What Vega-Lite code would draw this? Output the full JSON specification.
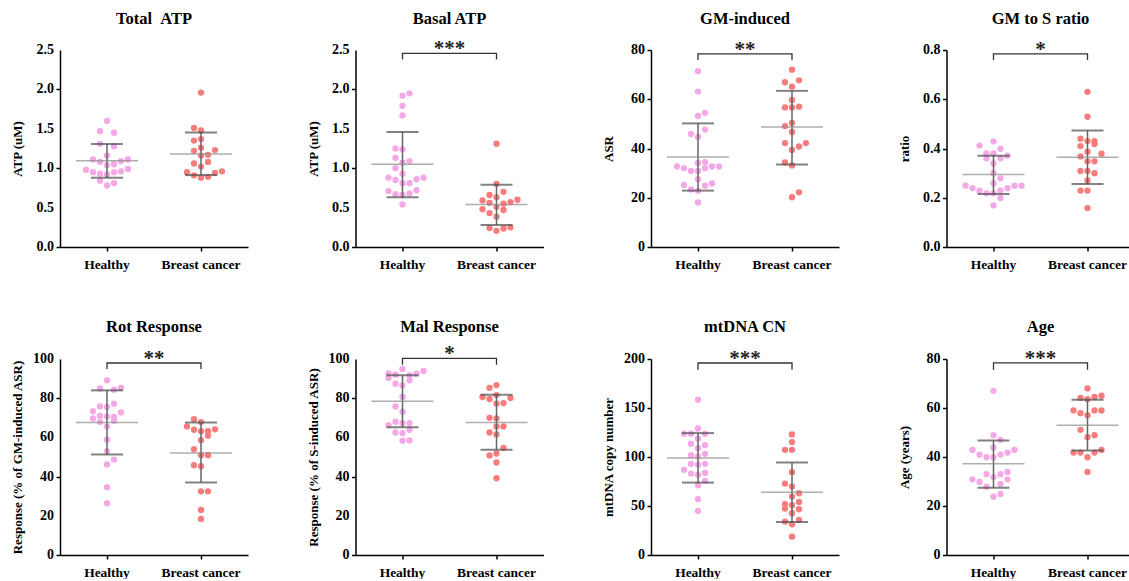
{
"$schema": "https://vega.github.io/schema/vega-lite/v6.json",
"padding": {"left": 11, "top": 10, "right": 0, "bottom": 0},
"background": "white",
"config": {
  "font": "Liberation Serif",
  "view": {"stroke": null},
  "axis": {"labelFont": "Liberation Serif", "labelFontSize": 14, "labelFontWeight": "bold", "labelColor": "#000", "titleFont": "Liberation Serif", "titleFontSize": 13, "titleFontWeight": "bold", "titleColor": "#000", "domainColor": "#000", "domainWidth": 1.5, "tickColor": "#000", "tickWidth": 1.5, "tickSize": 4, "grid": false},
  "axisY": {"minExtent": 28, "maxExtent": 28, "titlePadding": 7.5, "labels": false},
  "axisX": {"labelFontSize": 13.5, "labelPadding": 6, "labelAngle": 0},
  "text": {"font": "Liberation Serif", "color": "#000"}
},
"datasets": {
"points": [
{"panel":"p1","group":"Healthy","value":1.60,"slot":0},{"panel":"p1","group":"Healthy","value":1.47,"slot":-1},{"panel":"p1","group":"Healthy","value":1.45,"slot":1},{"panel":"p1","group":"Healthy","value":1.31,"slot":-1},{"panel":"p1","group":"Healthy","value":1.28,"slot":1},{"panel":"p1","group":"Healthy","value":1.16,"slot":0},{"panel":"p1","group":"Healthy","value":1.11,"slot":-2},{"panel":"p1","group":"Healthy","value":1.11,"slot":3},{"panel":"p1","group":"Healthy","value":1.08,"slot":-1},{"panel":"p1","group":"Healthy","value":1.09,"slot":2},{"panel":"p1","group":"Healthy","value":1.04,"slot":0},{"panel":"p1","group":"Healthy","value":1.05,"slot":1},{"panel":"p1","group":"Healthy","value":0.98,"slot":-3},{"panel":"p1","group":"Healthy","value":0.99,"slot":3},{"panel":"p1","group":"Healthy","value":0.95,"slot":-2},{"panel":"p1","group":"Healthy","value":0.96,"slot":2},{"panel":"p1","group":"Healthy","value":0.95,"slot":1},{"panel":"p1","group":"Healthy","value":0.93,"slot":-1},{"panel":"p1","group":"Healthy","value":0.92,"slot":0},{"panel":"p1","group":"Healthy","value":0.84,"slot":-1},{"panel":"p1","group":"Healthy","value":0.81,"slot":1},{"panel":"p1","group":"Healthy","value":0.78,"slot":0},
{"panel":"p1","group":"Breast cancer","value":1.96,"slot":0},{"panel":"p1","group":"Breast cancer","value":1.51,"slot":-1},{"panel":"p1","group":"Breast cancer","value":1.48,"slot":0},{"panel":"p1","group":"Breast cancer","value":1.35,"slot":-1},{"panel":"p1","group":"Breast cancer","value":1.37,"slot":0},{"panel":"p1","group":"Breast cancer","value":1.26,"slot":0},{"panel":"p1","group":"Breast cancer","value":1.22,"slot":-1},{"panel":"p1","group":"Breast cancer","value":1.23,"slot":2},{"panel":"p1","group":"Breast cancer","value":1.17,"slot":1},{"panel":"p1","group":"Breast cancer","value":1.16,"slot":0},{"panel":"p1","group":"Breast cancer","value":1.06,"slot":-1},{"panel":"p1","group":"Breast cancer","value":1.08,"slot":1},{"panel":"p1","group":"Breast cancer","value":1.02,"slot":0},{"panel":"p1","group":"Breast cancer","value":0.95,"slot":-2},{"panel":"p1","group":"Breast cancer","value":0.94,"slot":2},{"panel":"p1","group":"Breast cancer","value":0.96,"slot":3},{"panel":"p1","group":"Breast cancer","value":0.91,"slot":-1},{"panel":"p1","group":"Breast cancer","value":0.88,"slot":0},{"panel":"p1","group":"Breast cancer","value":0.89,"slot":1},
{"panel":"p2","group":"Healthy","value":1.95,"slot":1},{"panel":"p2","group":"Healthy","value":1.92,"slot":0},{"panel":"p2","group":"Healthy","value":1.79,"slot":0},{"panel":"p2","group":"Healthy","value":1.67,"slot":0},{"panel":"p2","group":"Healthy","value":1.25,"slot":-1},{"panel":"p2","group":"Healthy","value":1.24,"slot":0},{"panel":"p2","group":"Healthy","value":1.13,"slot":-1},{"panel":"p2","group":"Healthy","value":1.09,"slot":1},{"panel":"p2","group":"Healthy","value":1.07,"slot":0},{"panel":"p2","group":"Healthy","value":1.00,"slot":-1},{"panel":"p2","group":"Healthy","value":0.93,"slot":0},{"panel":"p2","group":"Healthy","value":0.88,"slot":-2},{"panel":"p2","group":"Healthy","value":0.88,"slot":3},{"panel":"p2","group":"Healthy","value":0.86,"slot":2},{"panel":"p2","group":"Healthy","value":0.85,"slot":-1},{"panel":"p2","group":"Healthy","value":0.81,"slot":0},{"panel":"p2","group":"Healthy","value":0.81,"slot":1},{"panel":"p2","group":"Healthy","value":0.71,"slot":-2},{"panel":"p2","group":"Healthy","value":0.72,"slot":2},{"panel":"p2","group":"Healthy","value":0.67,"slot":-1},{"panel":"p2","group":"Healthy","value":0.68,"slot":1},{"panel":"p2","group":"Healthy","value":0.66,"slot":0},{"panel":"p2","group":"Healthy","value":0.54,"slot":0},
{"panel":"p2","group":"Breast cancer","value":1.31,"slot":0},{"panel":"p2","group":"Breast cancer","value":0.80,"slot":0},{"panel":"p2","group":"Breast cancer","value":0.66,"slot":-1},{"panel":"p2","group":"Breast cancer","value":0.70,"slot":1},{"panel":"p2","group":"Breast cancer","value":0.63,"slot":0},{"panel":"p2","group":"Breast cancer","value":0.59,"slot":-2},{"panel":"p2","group":"Breast cancer","value":0.60,"slot":3},{"panel":"p2","group":"Breast cancer","value":0.57,"slot":2},{"panel":"p2","group":"Breast cancer","value":0.56,"slot":-1},{"panel":"p2","group":"Breast cancer","value":0.55,"slot":1},{"panel":"p2","group":"Breast cancer","value":0.51,"slot":0},{"panel":"p2","group":"Breast cancer","value":0.48,"slot":-2},{"panel":"p2","group":"Breast cancer","value":0.47,"slot":1},{"panel":"p2","group":"Breast cancer","value":0.43,"slot":-1},{"panel":"p2","group":"Breast cancer","value":0.385,"slot":0},{"panel":"p2","group":"Breast cancer","value":0.24,"slot":-1},{"panel":"p2","group":"Breast cancer","value":0.235,"slot":1},{"panel":"p2","group":"Breast cancer","value":0.25,"slot":2},{"panel":"p2","group":"Breast cancer","value":0.205,"slot":0},
{"panel":"p3","group":"Healthy","value":71.4,"slot":0},{"panel":"p3","group":"Healthy","value":63.1,"slot":0},{"panel":"p3","group":"Healthy","value":54.5,"slot":1},{"panel":"p3","group":"Healthy","value":53.2,"slot":0},{"panel":"p3","group":"Healthy","value":47.7,"slot":1},{"panel":"p3","group":"Healthy","value":45.9,"slot":-1},{"panel":"p3","group":"Healthy","value":44.7,"slot":0},{"panel":"p3","group":"Healthy","value":34.5,"slot":1},{"panel":"p3","group":"Healthy","value":34.1,"slot":0},{"panel":"p3","group":"Healthy","value":32.7,"slot":-3},{"panel":"p3","group":"Healthy","value":32.0,"slot":-2},{"panel":"p3","group":"Healthy","value":32.7,"slot":2},{"panel":"p3","group":"Healthy","value":32.7,"slot":3},{"panel":"p3","group":"Healthy","value":32.0,"slot":1},{"panel":"p3","group":"Healthy","value":30.9,"slot":-1},{"panel":"p3","group":"Healthy","value":30.9,"slot":0},{"panel":"p3","group":"Healthy","value":27.5,"slot":0},{"panel":"p3","group":"Healthy","value":25.2,"slot":-2},{"panel":"p3","group":"Healthy","value":25.8,"slot":2},{"panel":"p3","group":"Healthy","value":24.9,"slot":1},{"panel":"p3","group":"Healthy","value":23.4,"slot":-1},{"panel":"p3","group":"Healthy","value":22.8,"slot":0},{"panel":"p3","group":"Healthy","value":18.1,"slot":0},
{"panel":"p3","group":"Breast cancer","value":72.0,"slot":0},{"panel":"p3","group":"Breast cancer","value":67.7,"slot":1},{"panel":"p3","group":"Breast cancer","value":66.9,"slot":-1},{"panel":"p3","group":"Breast cancer","value":65.1,"slot":0},{"panel":"p3","group":"Breast cancer","value":59.7,"slot":0},{"panel":"p3","group":"Breast cancer","value":56.7,"slot":-1},{"panel":"p3","group":"Breast cancer","value":56.7,"slot":0},{"panel":"p3","group":"Breast cancer","value":57.0,"slot":1},{"panel":"p3","group":"Breast cancer","value":50.4,"slot":0},{"panel":"p3","group":"Breast cancer","value":49.1,"slot":-1},{"panel":"p3","group":"Breast cancer","value":46.7,"slot":0},{"panel":"p3","group":"Breast cancer","value":42.2,"slot":-1},{"panel":"p3","group":"Breast cancer","value":42.2,"slot":2},{"panel":"p3","group":"Breast cancer","value":40.8,"slot":1},{"panel":"p3","group":"Breast cancer","value":39.4,"slot":0},{"panel":"p3","group":"Breast cancer","value":34.3,"slot":-1},{"panel":"p3","group":"Breast cancer","value":33.1,"slot":0},{"panel":"p3","group":"Breast cancer","value":22.2,"slot":1},{"panel":"p3","group":"Breast cancer","value":20.2,"slot":0},
{"panel":"p4","group":"Healthy","value":0.429,"slot":0},{"panel":"p4","group":"Healthy","value":0.412,"slot":-2},{"panel":"p4","group":"Healthy","value":0.399,"slot":1},{"panel":"p4","group":"Healthy","value":0.380,"slot":-1},{"panel":"p4","group":"Healthy","value":0.380,"slot":0},{"panel":"p4","group":"Healthy","value":0.371,"slot":2},{"panel":"p4","group":"Healthy","value":0.360,"slot":-1},{"panel":"p4","group":"Healthy","value":0.360,"slot":1},{"panel":"p4","group":"Healthy","value":0.339,"slot":0},{"panel":"p4","group":"Healthy","value":0.300,"slot":0},{"panel":"p4","group":"Healthy","value":0.279,"slot":1},{"panel":"p4","group":"Healthy","value":0.259,"slot":0},{"panel":"p4","group":"Healthy","value":0.249,"slot":-4},{"panel":"p4","group":"Healthy","value":0.249,"slot":3},{"panel":"p4","group":"Healthy","value":0.249,"slot":4},{"panel":"p4","group":"Healthy","value":0.239,"slot":-3},{"panel":"p4","group":"Healthy","value":0.239,"slot":2},{"panel":"p4","group":"Healthy","value":0.229,"slot":-2},{"panel":"p4","group":"Healthy","value":0.229,"slot":1},{"panel":"p4","group":"Healthy","value":0.218,"slot":-1},{"panel":"p4","group":"Healthy","value":0.218,"slot":0},{"panel":"p4","group":"Healthy","value":0.199,"slot":1},{"panel":"p4","group":"Healthy","value":0.169,"slot":0},
{"panel":"p4","group":"Breast cancer","value":0.630,"slot":0},{"panel":"p4","group":"Breast cancer","value":0.529,"slot":0},{"panel":"p4","group":"Breast cancer","value":0.440,"slot":-1},{"panel":"p4","group":"Breast cancer","value":0.430,"slot":0},{"panel":"p4","group":"Breast cancer","value":0.430,"slot":1},{"panel":"p4","group":"Breast cancer","value":0.418,"slot":1},{"panel":"p4","group":"Breast cancer","value":0.410,"slot":-1},{"panel":"p4","group":"Breast cancer","value":0.387,"slot":0},{"panel":"p4","group":"Breast cancer","value":0.379,"slot":2},{"panel":"p4","group":"Breast cancer","value":0.368,"slot":-1},{"panel":"p4","group":"Breast cancer","value":0.348,"slot":0},{"panel":"p4","group":"Breast cancer","value":0.348,"slot":1},{"panel":"p4","group":"Breast cancer","value":0.309,"slot":-1},{"panel":"p4","group":"Breast cancer","value":0.309,"slot":0},{"panel":"p4","group":"Breast cancer","value":0.300,"slot":1},{"panel":"p4","group":"Breast cancer","value":0.270,"slot":0},{"panel":"p4","group":"Breast cancer","value":0.229,"slot":-1},{"panel":"p4","group":"Breast cancer","value":0.229,"slot":0},{"panel":"p4","group":"Breast cancer","value":0.158,"slot":0},
{"panel":"p5","group":"Healthy","value":89.1,"slot":0},{"panel":"p5","group":"Healthy","value":85.0,"slot":-1},{"panel":"p5","group":"Healthy","value":84.3,"slot":1},{"panel":"p5","group":"Healthy","value":85.3,"slot":2},{"panel":"p5","group":"Healthy","value":77.2,"slot":1},{"panel":"p5","group":"Healthy","value":75.8,"slot":-1},{"panel":"p5","group":"Healthy","value":75.5,"slot":0},{"panel":"p5","group":"Healthy","value":73.4,"slot":-2},{"panel":"p5","group":"Healthy","value":72.7,"slot":2},{"panel":"p5","group":"Healthy","value":71.0,"slot":-1},{"panel":"p5","group":"Healthy","value":70.7,"slot":0},{"panel":"p5","group":"Healthy","value":70.5,"slot":1},{"panel":"p5","group":"Healthy","value":69.7,"slot":-2},{"panel":"p5","group":"Healthy","value":68.5,"slot":1},{"panel":"p5","group":"Healthy","value":67.8,"slot":-1},{"panel":"p5","group":"Healthy","value":65.6,"slot":0},{"panel":"p5","group":"Healthy","value":58.8,"slot":0},{"panel":"p5","group":"Healthy","value":53.0,"slot":0},{"panel":"p5","group":"Healthy","value":48.7,"slot":1},{"panel":"p5","group":"Healthy","value":46.2,"slot":0},{"panel":"p5","group":"Healthy","value":34.6,"slot":0},{"panel":"p5","group":"Healthy","value":26.4,"slot":0},
{"panel":"p5","group":"Breast cancer","value":69.3,"slot":-1},{"panel":"p5","group":"Breast cancer","value":67.8,"slot":0},{"panel":"p5","group":"Breast cancer","value":65.6,"slot":-2},{"panel":"p5","group":"Breast cancer","value":63.9,"slot":-1},{"panel":"p5","group":"Breast cancer","value":63.2,"slot":1},{"panel":"p5","group":"Breast cancer","value":64.1,"slot":2},{"panel":"p5","group":"Breast cancer","value":63.2,"slot":0},{"panel":"p5","group":"Breast cancer","value":60.8,"slot":1},{"panel":"p5","group":"Breast cancer","value":58.6,"slot":0},{"panel":"p5","group":"Breast cancer","value":54.0,"slot":-1},{"panel":"p5","group":"Breast cancer","value":50.9,"slot":0},{"panel":"p5","group":"Breast cancer","value":50.9,"slot":1},{"panel":"p5","group":"Breast cancer","value":45.8,"slot":-1},{"panel":"p5","group":"Breast cancer","value":45.3,"slot":0},{"panel":"p5","group":"Breast cancer","value":32.5,"slot":0},{"panel":"p5","group":"Breast cancer","value":32.5,"slot":1},{"panel":"p5","group":"Breast cancer","value":23.0,"slot":0},{"panel":"p5","group":"Breast cancer","value":18.4,"slot":0},
{"panel":"p6","group":"Healthy","value":94.9,"slot":0},{"panel":"p6","group":"Healthy","value":93.9,"slot":3},{"panel":"p6","group":"Healthy","value":92.7,"slot":-2},{"panel":"p6","group":"Healthy","value":92.0,"slot":-1},{"panel":"p6","group":"Healthy","value":92.5,"slot":2},{"panel":"p6","group":"Healthy","value":91.7,"slot":1},{"panel":"p6","group":"Healthy","value":90.3,"slot":-2},{"panel":"p6","group":"Healthy","value":87.4,"slot":-1},{"panel":"p6","group":"Healthy","value":89.1,"slot":1},{"panel":"p6","group":"Healthy","value":86.5,"slot":0},{"panel":"p6","group":"Healthy","value":80.6,"slot":0},{"panel":"p6","group":"Healthy","value":75.8,"slot":-1},{"panel":"p6","group":"Healthy","value":73.1,"slot":0},{"panel":"p6","group":"Healthy","value":68.0,"slot":-1},{"panel":"p6","group":"Healthy","value":67.3,"slot":1},{"panel":"p6","group":"Healthy","value":66.3,"slot":-2},{"panel":"p6","group":"Healthy","value":67.3,"slot":0},{"panel":"p6","group":"Healthy","value":63.9,"slot":1},{"panel":"p6","group":"Healthy","value":62.5,"slot":-1},{"panel":"p6","group":"Healthy","value":62.2,"slot":0},{"panel":"p6","group":"Healthy","value":58.3,"slot":0},{"panel":"p6","group":"Healthy","value":58.4,"slot":1},
{"panel":"p6","group":"Breast cancer","value":86.7,"slot":0},{"panel":"p6","group":"Breast cancer","value":85.3,"slot":-1},{"panel":"p6","group":"Breast cancer","value":80.6,"slot":-2},{"panel":"p6","group":"Breast cancer","value":80.1,"slot":2},{"panel":"p6","group":"Breast cancer","value":79.6,"slot":-1},{"panel":"p6","group":"Breast cancer","value":81.6,"slot":0},{"panel":"p6","group":"Breast cancer","value":77.5,"slot":1},{"panel":"p6","group":"Breast cancer","value":77.2,"slot":0},{"panel":"p6","group":"Breast cancer","value":70.0,"slot":-1},{"panel":"p6","group":"Breast cancer","value":69.7,"slot":0},{"panel":"p6","group":"Breast cancer","value":65.6,"slot":0},{"panel":"p6","group":"Breast cancer","value":65.6,"slot":1},{"panel":"p6","group":"Breast cancer","value":62.5,"slot":-1},{"panel":"p6","group":"Breast cancer","value":61.5,"slot":0},{"panel":"p6","group":"Breast cancer","value":54.7,"slot":1},{"panel":"p6","group":"Breast cancer","value":51.8,"slot":0},{"panel":"p6","group":"Breast cancer","value":50.8,"slot":-1},{"panel":"p6","group":"Breast cancer","value":47.2,"slot":0},{"panel":"p6","group":"Breast cancer","value":39.2,"slot":0},
{"panel":"p7","group":"Healthy","value":158.4,"slot":0},{"panel":"p7","group":"Healthy","value":129.1,"slot":0},{"panel":"p7","group":"Healthy","value":123.7,"slot":-2},{"panel":"p7","group":"Healthy","value":123.7,"slot":-1},{"panel":"p7","group":"Healthy","value":123.7,"slot":1},{"panel":"p7","group":"Healthy","value":118.6,"slot":0},{"panel":"p7","group":"Healthy","value":113.5,"slot":-1},{"panel":"p7","group":"Healthy","value":112.1,"slot":1},{"panel":"p7","group":"Healthy","value":109.0,"slot":0},{"panel":"p7","group":"Healthy","value":101.9,"slot":-1},{"panel":"p7","group":"Healthy","value":103.2,"slot":1},{"panel":"p7","group":"Healthy","value":100.5,"slot":0},{"panel":"p7","group":"Healthy","value":93.0,"slot":-1},{"panel":"p7","group":"Healthy","value":93.0,"slot":1},{"panel":"p7","group":"Healthy","value":92.3,"slot":0},{"panel":"p7","group":"Healthy","value":86.9,"slot":-2},{"panel":"p7","group":"Healthy","value":83.1,"slot":-1},{"panel":"p7","group":"Healthy","value":83.8,"slot":1},{"panel":"p7","group":"Healthy","value":81.8,"slot":0},{"panel":"p7","group":"Healthy","value":75.6,"slot":1},{"panel":"p7","group":"Healthy","value":71.2,"slot":0},{"panel":"p7","group":"Healthy","value":56.9,"slot":0},{"panel":"p7","group":"Healthy","value":45.0,"slot":0},
{"panel":"p7","group":"Breast cancer","value":123.0,"slot":0},{"panel":"p7","group":"Breast cancer","value":115.2,"slot":0},{"panel":"p7","group":"Breast cancer","value":107.3,"slot":-1},{"panel":"p7","group":"Breast cancer","value":107.3,"slot":0},{"panel":"p7","group":"Breast cancer","value":84.5,"slot":0},{"panel":"p7","group":"Breast cancer","value":72.9,"slot":-1},{"panel":"p7","group":"Breast cancer","value":69.8,"slot":0},{"panel":"p7","group":"Breast cancer","value":59.6,"slot":0},{"panel":"p7","group":"Breast cancer","value":63.0,"slot":1},{"panel":"p7","group":"Breast cancer","value":51.8,"slot":-1},{"panel":"p7","group":"Breast cancer","value":54.2,"slot":1},{"panel":"p7","group":"Breast cancer","value":50.8,"slot":0},{"panel":"p7","group":"Breast cancer","value":47.4,"slot":-1},{"panel":"p7","group":"Breast cancer","value":46.7,"slot":1},{"panel":"p7","group":"Breast cancer","value":42.6,"slot":0},{"panel":"p7","group":"Breast cancer","value":34.1,"slot":-1},{"panel":"p7","group":"Breast cancer","value":35.8,"slot":1},{"panel":"p7","group":"Breast cancer","value":31.3,"slot":0},{"panel":"p7","group":"Breast cancer","value":18.7,"slot":0},
{"panel":"p8","group":"Healthy","value":67.0,"slot":0},{"panel":"p8","group":"Healthy","value":48.9,"slot":0},{"panel":"p8","group":"Healthy","value":47.0,"slot":1},{"panel":"p8","group":"Healthy","value":43.9,"slot":0},{"panel":"p8","group":"Healthy","value":42.9,"slot":-3},{"panel":"p8","group":"Healthy","value":42.9,"slot":3},{"panel":"p8","group":"Healthy","value":41.8,"slot":2},{"panel":"p8","group":"Healthy","value":41.0,"slot":-2},{"panel":"p8","group":"Healthy","value":41.0,"slot":1},{"panel":"p8","group":"Healthy","value":39.9,"slot":-1},{"panel":"p8","group":"Healthy","value":39.9,"slot":0},{"panel":"p8","group":"Healthy","value":33.9,"slot":2},{"panel":"p8","group":"Healthy","value":33.0,"slot":-1},{"panel":"p8","group":"Healthy","value":33.0,"slot":1},{"panel":"p8","group":"Healthy","value":31.8,"slot":0},{"panel":"p8","group":"Healthy","value":30.9,"slot":-3},{"panel":"p8","group":"Healthy","value":30.9,"slot":2},{"panel":"p8","group":"Healthy","value":29.8,"slot":-2},{"panel":"p8","group":"Healthy","value":29.0,"slot":1},{"panel":"p8","group":"Healthy","value":27.9,"slot":-1},{"panel":"p8","group":"Healthy","value":24.9,"slot":1},{"panel":"p8","group":"Healthy","value":23.8,"slot":0},
{"panel":"p8","group":"Breast cancer","value":68.0,"slot":0},{"panel":"p8","group":"Breast cancer","value":64.1,"slot":-1},{"panel":"p8","group":"Breast cancer","value":64.5,"slot":1},{"panel":"p8","group":"Breast cancer","value":65.0,"slot":2},{"panel":"p8","group":"Breast cancer","value":63.6,"slot":0},{"panel":"p8","group":"Breast cancer","value":59.0,"slot":-2},{"panel":"p8","group":"Breast cancer","value":59.0,"slot":2},{"panel":"p8","group":"Breast cancer","value":59.0,"slot":1},{"panel":"p8","group":"Breast cancer","value":57.9,"slot":-1},{"panel":"p8","group":"Breast cancer","value":57.0,"slot":0},{"panel":"p8","group":"Breast cancer","value":51.1,"slot":-1},{"panel":"p8","group":"Breast cancer","value":48.9,"slot":1},{"panel":"p8","group":"Breast cancer","value":48.1,"slot":0},{"panel":"p8","group":"Breast cancer","value":42.9,"slot":2},{"panel":"p8","group":"Breast cancer","value":41.8,"slot":-2},{"panel":"p8","group":"Breast cancer","value":41.8,"slot":-1},{"panel":"p8","group":"Breast cancer","value":41.8,"slot":1},{"panel":"p8","group":"Breast cancer","value":39.9,"slot":0},{"panel":"p8","group":"Breast cancer","value":33.9,"slot":0}
],
"stats": [
{"panel":"p1","group":"Healthy","mean":1.093,"lo":0.879,"hi":1.307},{"panel":"p1","group":"Breast cancer","mean":1.181,"lo":0.913,"hi":1.453},
{"panel":"p2","group":"Healthy","mean":1.05,"lo":0.63,"hi":1.46},{"panel":"p2","group":"Breast cancer","mean":0.54,"lo":0.28,"hi":0.79},
{"panel":"p3","group":"Healthy","mean":36.5,"lo":22.9,"hi":50.2},{"panel":"p3","group":"Breast cancer","mean":48.7,"lo":33.5,"hi":63.4},
{"panel":"p4","group":"Healthy","mean":0.294,"lo":0.215,"hi":0.371},{"panel":"p4","group":"Breast cancer","mean":0.364,"lo":0.256,"hi":0.473},
{"panel":"p5","group":"Healthy","mean":67.6,"lo":51.3,"hi":84.0},{"panel":"p5","group":"Breast cancer","mean":52.0,"lo":37.0,"hi":67.6},
{"panel":"p6","group":"Healthy","mean":78.4,"lo":65.2,"hi":91.7},{"panel":"p6","group":"Breast cancer","mean":67.6,"lo":53.7,"hi":81.8},
{"panel":"p7","group":"Healthy","mean":99.1,"lo":73.9,"hi":124.4},{"panel":"p7","group":"Breast cancer","mean":64.1,"lo":33.7,"hi":94.4},
{"panel":"p8","group":"Healthy","mean":37.2,"lo":27.4,"hi":46.7},{"panel":"p8","group":"Breast cancer","mean":53.0,"lo":42.7,"hi":63.4}
],
"brackets": [
{"panel":"p2","group":"Healthy","y":2.38,"ord":1},{"panel":"p2","group":"Healthy","y":2.457,"ord":2},{"panel":"p2","group":"Breast cancer","y":2.457,"ord":3},{"panel":"p2","group":"Breast cancer","y":2.38,"ord":4},
{"panel":"p3","group":"Healthy","y":75.9,"ord":1},{"panel":"p3","group":"Healthy","y":78.4,"ord":2},{"panel":"p3","group":"Breast cancer","y":78.4,"ord":3},{"panel":"p3","group":"Breast cancer","y":75.9,"ord":4},
{"panel":"p4","group":"Healthy","y":0.759,"ord":1},{"panel":"p4","group":"Healthy","y":0.784,"ord":2},{"panel":"p4","group":"Breast cancer","y":0.784,"ord":3},{"panel":"p4","group":"Breast cancer","y":0.759,"ord":4},
{"panel":"p5","group":"Healthy","y":94.9,"ord":1},{"panel":"p5","group":"Healthy","y":97.96,"ord":2},{"panel":"p5","group":"Breast cancer","y":97.96,"ord":3},{"panel":"p5","group":"Breast cancer","y":94.9,"ord":4},
{"panel":"p6","group":"Healthy","y":97.1,"ord":1},{"panel":"p6","group":"Healthy","y":100.3,"ord":2},{"panel":"p6","group":"Breast cancer","y":100.3,"ord":3},{"panel":"p6","group":"Breast cancer","y":97.1,"ord":4},
{"panel":"p7","group":"Healthy","y":189.1,"ord":1},{"panel":"p7","group":"Healthy","y":195.9,"ord":2},{"panel":"p7","group":"Breast cancer","y":195.9,"ord":3},{"panel":"p7","group":"Breast cancer","y":189.1,"ord":4},
{"panel":"p8","group":"Healthy","y":75.6,"ord":1},{"panel":"p8","group":"Healthy","y":78.4,"ord":2},{"panel":"p8","group":"Breast cancer","y":78.4,"ord":3},{"panel":"p8","group":"Breast cancer","y":75.6,"ord":4}
],
"stars": [
{"panel":"p2","group":"Breast cancer","y":2.457,"label":"***"},
{"panel":"p3","group":"Breast cancer","y":78.4,"label":"**"},
{"panel":"p4","group":"Breast cancer","y":0.784,"label":"*"},
{"panel":"p5","group":"Breast cancer","y":97.96,"label":"**"},
{"panel":"p6","group":"Breast cancer","y":100.3,"label":"*"},
{"panel":"p7","group":"Breast cancer","y":195.9,"label":"***"},
{"panel":"p8","group":"Breast cancer","y":78.4,"label":"***"}
],
"titles": [
{"panel":"p1","group":"Breast cancer","y":2.5,"label":"Total \u00a0ATP"},
{"panel":"p2","group":"Breast cancer","y":2.5,"label":"Basal ATP"},
{"panel":"p3","group":"Breast cancer","y":80,"label":"GM-induced"},
{"panel":"p4","group":"Breast cancer","y":0.8,"label":"GM to S ratio"},
{"panel":"p5","group":"Breast cancer","y":100,"label":"Rot Response"},
{"panel":"p6","group":"Breast cancer","y":100,"label":"Mal Response"},
{"panel":"p7","group":"Breast cancer","y":200,"label":"mtDNA CN"},
{"panel":"p8","group":"Breast cancer","y":80,"label":"Age"}
],
"ylabels": [
{"panel":"p1","group":"Healthy","y":0,"label":"0.0"},{"panel":"p1","group":"Healthy","y":0.5,"label":"0.5"},{"panel":"p1","group":"Healthy","y":1,"label":"1.0"},{"panel":"p1","group":"Healthy","y":1.5,"label":"1.5"},{"panel":"p1","group":"Healthy","y":2,"label":"2.0"},{"panel":"p1","group":"Healthy","y":2.5,"label":"2.5"},
{"panel":"p2","group":"Healthy","y":0,"label":"0.0"},{"panel":"p2","group":"Healthy","y":0.5,"label":"0.5"},{"panel":"p2","group":"Healthy","y":1,"label":"1.0"},{"panel":"p2","group":"Healthy","y":1.5,"label":"1.5"},{"panel":"p2","group":"Healthy","y":2,"label":"2.0"},{"panel":"p2","group":"Healthy","y":2.5,"label":"2.5"},
{"panel":"p3","group":"Healthy","y":0,"label":"0"},{"panel":"p3","group":"Healthy","y":20,"label":"20"},{"panel":"p3","group":"Healthy","y":40,"label":"40"},{"panel":"p3","group":"Healthy","y":60,"label":"60"},{"panel":"p3","group":"Healthy","y":80,"label":"80"},
{"panel":"p4","group":"Healthy","y":0,"label":"0.0"},{"panel":"p4","group":"Healthy","y":0.2,"label":"0.2"},{"panel":"p4","group":"Healthy","y":0.4,"label":"0.4"},{"panel":"p4","group":"Healthy","y":0.6,"label":"0.6"},{"panel":"p4","group":"Healthy","y":0.8,"label":"0.8"},
{"panel":"p5","group":"Healthy","y":0,"label":"0"},{"panel":"p5","group":"Healthy","y":20,"label":"20"},{"panel":"p5","group":"Healthy","y":40,"label":"40"},{"panel":"p5","group":"Healthy","y":60,"label":"60"},{"panel":"p5","group":"Healthy","y":80,"label":"80"},{"panel":"p5","group":"Healthy","y":100,"label":"100"},
{"panel":"p6","group":"Healthy","y":0,"label":"0"},{"panel":"p6","group":"Healthy","y":20,"label":"20"},{"panel":"p6","group":"Healthy","y":40,"label":"40"},{"panel":"p6","group":"Healthy","y":60,"label":"60"},{"panel":"p6","group":"Healthy","y":80,"label":"80"},{"panel":"p6","group":"Healthy","y":100,"label":"100"},
{"panel":"p7","group":"Healthy","y":0,"label":"0"},{"panel":"p7","group":"Healthy","y":50,"label":"50"},{"panel":"p7","group":"Healthy","y":100,"label":"100"},{"panel":"p7","group":"Healthy","y":150,"label":"150"},{"panel":"p7","group":"Healthy","y":200,"label":"200"},
{"panel":"p8","group":"Healthy","y":0,"label":"0"},{"panel":"p8","group":"Healthy","y":20,"label":"20"},{"panel":"p8","group":"Healthy","y":40,"label":"40"},{"panel":"p8","group":"Healthy","y":60,"label":"60"},{"panel":"p8","group":"Healthy","y":80,"label":"80"}
]
},
"columns": 4,
"spacing": {"row": 48, "column": 58.5},
"concat": [
{"width":188,"height":197,"layer":[
 {"data":{"name":"points"},"transform":[{"filter":"datum.panel === 'p1'"}],"mark":{"type":"circle","size":40,"opacity":1},"encoding":{"x":{"field":"group","type":"nominal","scale":{"type":"band","domain":["Healthy","Breast cancer"],"paddingInner":0,"paddingOuter":0},"axis":{"title":null}},"xOffset":{"field":"slot","type":"quantitative","scale":{"domain":[-6.714,6.714],"range":[0,94]}},"y":{"field":"value","type":"quantitative","scale":{"domain":[0,2.5],"nice":false},"axis":{"title":"ATP (uM)","values":[0,0.5,1,1.5,2,2.5]}},"color":{"field":"group","type":"nominal","scale":{"domain":["Healthy","Breast cancer"],"range":["#F5A8E6","#F87C7C"]},"legend":null}}},
 {"data":{"name":"stats"},"transform":[{"filter":"datum.panel === 'p1'"}],"mark":{"type":"rule","color":"#666666","strokeWidth":1.5},"encoding":{"x":{"field":"group","type":"nominal"},"y":{"field":"lo","type":"quantitative"},"y2":{"field":"hi"}}},
 {"data":{"name":"stats"},"transform":[{"filter":"datum.panel === 'p1'"}],"mark":{"type":"tick","color":"#8c8c8c","size":62,"thickness":1.5},"encoding":{"x":{"field":"group","type":"nominal"},"y":{"field":"mean","type":"quantitative"}}},
 {"data":{"name":"stats"},"transform":[{"filter":"datum.panel === 'p1'"}],"mark":{"type":"tick","color":"#4d4d4d","size":32,"thickness":2},"encoding":{"x":{"field":"group","type":"nominal"},"y":{"field":"lo","type":"quantitative"}}},
 {"data":{"name":"stats"},"transform":[{"filter":"datum.panel === 'p1'"}],"mark":{"type":"tick","color":"#4d4d4d","size":32,"thickness":2},"encoding":{"x":{"field":"group","type":"nominal"},"y":{"field":"hi","type":"quantitative"}}},
 {"data":{"name":"ylabels"},"transform":[{"filter":"datum.panel === 'p1'"}],"mark":{"type":"text","fontSize":14,"fontWeight":"bold","align":"right","baseline":"middle","dx":-6},"encoding":{"x":{"field":"group","type":"nominal","bandPosition":0},"y":{"field":"y","type":"quantitative"},"text":{"field":"label"}}},
 {"data":{"name":"titles"},"transform":[{"filter":"datum.panel === 'p1'"}],"mark":{"type":"text","fontSize":16.5,"fontWeight":"bold","baseline":"middle","dy":-31.5},"encoding":{"x":{"field":"group","type":"nominal","bandPosition":0},"y":{"field":"y","type":"quantitative"},"text":{"field":"label"}}}
]},
{"width":188,"height":197,"layer":[
 {"data":{"name":"points"},"transform":[{"filter":"datum.panel === 'p2'"}],"mark":{"type":"circle","size":40,"opacity":1},"encoding":{"x":{"field":"group","type":"nominal","scale":{"type":"band","domain":["Healthy","Breast cancer"],"paddingInner":0,"paddingOuter":0},"axis":{"title":null}},"xOffset":{"field":"slot","type":"quantitative","scale":{"domain":[-6.714,6.714],"range":[0,94]}},"y":{"field":"value","type":"quantitative","scale":{"domain":[0,2.5],"nice":false},"axis":{"title":"ATP (uM)","values":[0,0.5,1,1.5,2,2.5]}},"color":{"field":"group","type":"nominal","scale":{"domain":["Healthy","Breast cancer"],"range":["#F5A8E6","#F87C7C"]},"legend":null}}},
 {"data":{"name":"stats"},"transform":[{"filter":"datum.panel === 'p2'"}],"mark":{"type":"rule","color":"#666666","strokeWidth":1.5},"encoding":{"x":{"field":"group","type":"nominal"},"y":{"field":"lo","type":"quantitative"},"y2":{"field":"hi"}}},
 {"data":{"name":"stats"},"transform":[{"filter":"datum.panel === 'p2'"}],"mark":{"type":"tick","color":"#8c8c8c","size":62,"thickness":1.5},"encoding":{"x":{"field":"group","type":"nominal"},"y":{"field":"mean","type":"quantitative"}}},
 {"data":{"name":"stats"},"transform":[{"filter":"datum.panel === 'p2'"}],"mark":{"type":"tick","color":"#4d4d4d","size":32,"thickness":2},"encoding":{"x":{"field":"group","type":"nominal"},"y":{"field":"lo","type":"quantitative"}}},
 {"data":{"name":"stats"},"transform":[{"filter":"datum.panel === 'p2'"}],"mark":{"type":"tick","color":"#4d4d4d","size":32,"thickness":2},"encoding":{"x":{"field":"group","type":"nominal"},"y":{"field":"hi","type":"quantitative"}}},
 {"data":{"name":"brackets"},"transform":[{"filter":"datum.panel === 'p2'"}],"mark":{"type":"line","color":"#333333","strokeWidth":1.3},"encoding":{"x":{"field":"group","type":"nominal"},"y":{"field":"y","type":"quantitative"},"order":{"field":"ord"}}},
 {"data":{"name":"stars"},"transform":[{"filter":"datum.panel === 'p2'"}],"mark":{"type":"text","fontSize":21,"fontWeight":"bold","baseline":"alphabetic","dy":2,"color":"#222"},"encoding":{"x":{"field":"group","type":"nominal","bandPosition":0},"y":{"field":"y","type":"quantitative"},"text":{"field":"label"}}},
 {"data":{"name":"ylabels"},"transform":[{"filter":"datum.panel === 'p2'"}],"mark":{"type":"text","fontSize":14,"fontWeight":"bold","align":"right","baseline":"middle","dx":-6},"encoding":{"x":{"field":"group","type":"nominal","bandPosition":0},"y":{"field":"y","type":"quantitative"},"text":{"field":"label"}}},
 {"data":{"name":"titles"},"transform":[{"filter":"datum.panel === 'p2'"}],"mark":{"type":"text","fontSize":16.5,"fontWeight":"bold","baseline":"middle","dy":-31.5},"encoding":{"x":{"field":"group","type":"nominal","bandPosition":0},"y":{"field":"y","type":"quantitative"},"text":{"field":"label"}}}
]},
{"width":188,"height":197,"layer":[
 {"data":{"name":"points"},"transform":[{"filter":"datum.panel === 'p3'"}],"mark":{"type":"circle","size":40,"opacity":1},"encoding":{"x":{"field":"group","type":"nominal","scale":{"type":"band","domain":["Healthy","Breast cancer"],"paddingInner":0,"paddingOuter":0},"axis":{"title":null}},"xOffset":{"field":"slot","type":"quantitative","scale":{"domain":[-6.714,6.714],"range":[0,94]}},"y":{"field":"value","type":"quantitative","scale":{"domain":[0,80],"nice":false},"axis":{"title":"ASR","values":[0,20,40,60,80]}},"color":{"field":"group","type":"nominal","scale":{"domain":["Healthy","Breast cancer"],"range":["#F5A8E6","#F87C7C"]},"legend":null}}},
 {"data":{"name":"stats"},"transform":[{"filter":"datum.panel === 'p3'"}],"mark":{"type":"rule","color":"#666666","strokeWidth":1.5},"encoding":{"x":{"field":"group","type":"nominal"},"y":{"field":"lo","type":"quantitative"},"y2":{"field":"hi"}}},
 {"data":{"name":"stats"},"transform":[{"filter":"datum.panel === 'p3'"}],"mark":{"type":"tick","color":"#8c8c8c","size":62,"thickness":1.5},"encoding":{"x":{"field":"group","type":"nominal"},"y":{"field":"mean","type":"quantitative"}}},
 {"data":{"name":"stats"},"transform":[{"filter":"datum.panel === 'p3'"}],"mark":{"type":"tick","color":"#4d4d4d","size":32,"thickness":2},"encoding":{"x":{"field":"group","type":"nominal"},"y":{"field":"lo","type":"quantitative"}}},
 {"data":{"name":"stats"},"transform":[{"filter":"datum.panel === 'p3'"}],"mark":{"type":"tick","color":"#4d4d4d","size":32,"thickness":2},"encoding":{"x":{"field":"group","type":"nominal"},"y":{"field":"hi","type":"quantitative"}}},
 {"data":{"name":"brackets"},"transform":[{"filter":"datum.panel === 'p3'"}],"mark":{"type":"line","color":"#333333","strokeWidth":1.3},"encoding":{"x":{"field":"group","type":"nominal"},"y":{"field":"y","type":"quantitative"},"order":{"field":"ord"}}},
 {"data":{"name":"stars"},"transform":[{"filter":"datum.panel === 'p3'"}],"mark":{"type":"text","fontSize":21,"fontWeight":"bold","baseline":"alphabetic","dy":2,"color":"#222"},"encoding":{"x":{"field":"group","type":"nominal","bandPosition":0},"y":{"field":"y","type":"quantitative"},"text":{"field":"label"}}},
 {"data":{"name":"ylabels"},"transform":[{"filter":"datum.panel === 'p3'"}],"mark":{"type":"text","fontSize":14,"fontWeight":"bold","align":"right","baseline":"middle","dx":-6},"encoding":{"x":{"field":"group","type":"nominal","bandPosition":0},"y":{"field":"y","type":"quantitative"},"text":{"field":"label"}}},
 {"data":{"name":"titles"},"transform":[{"filter":"datum.panel === 'p3'"}],"mark":{"type":"text","fontSize":16.5,"fontWeight":"bold","baseline":"middle","dy":-31.5},"encoding":{"x":{"field":"group","type":"nominal","bandPosition":0},"y":{"field":"y","type":"quantitative"},"text":{"field":"label"}}}
]},
{"width":188,"height":197,"layer":[
 {"data":{"name":"points"},"transform":[{"filter":"datum.panel === 'p4'"}],"mark":{"type":"circle","size":40,"opacity":1},"encoding":{"x":{"field":"group","type":"nominal","scale":{"type":"band","domain":["Healthy","Breast cancer"],"paddingInner":0,"paddingOuter":0},"axis":{"title":null}},"xOffset":{"field":"slot","type":"quantitative","scale":{"domain":[-6.714,6.714],"range":[0,94]}},"y":{"field":"value","type":"quantitative","scale":{"domain":[0,0.8],"nice":false},"axis":{"title":"ratio","values":[0,0.2,0.4,0.6,0.8]}},"color":{"field":"group","type":"nominal","scale":{"domain":["Healthy","Breast cancer"],"range":["#F5A8E6","#F87C7C"]},"legend":null}}},
 {"data":{"name":"stats"},"transform":[{"filter":"datum.panel === 'p4'"}],"mark":{"type":"rule","color":"#666666","strokeWidth":1.5},"encoding":{"x":{"field":"group","type":"nominal"},"y":{"field":"lo","type":"quantitative"},"y2":{"field":"hi"}}},
 {"data":{"name":"stats"},"transform":[{"filter":"datum.panel === 'p4'"}],"mark":{"type":"tick","color":"#8c8c8c","size":62,"thickness":1.5},"encoding":{"x":{"field":"group","type":"nominal"},"y":{"field":"mean","type":"quantitative"}}},
 {"data":{"name":"stats"},"transform":[{"filter":"datum.panel === 'p4'"}],"mark":{"type":"tick","color":"#4d4d4d","size":32,"thickness":2},"encoding":{"x":{"field":"group","type":"nominal"},"y":{"field":"lo","type":"quantitative"}}},
 {"data":{"name":"stats"},"transform":[{"filter":"datum.panel === 'p4'"}],"mark":{"type":"tick","color":"#4d4d4d","size":32,"thickness":2},"encoding":{"x":{"field":"group","type":"nominal"},"y":{"field":"hi","type":"quantitative"}}},
 {"data":{"name":"brackets"},"transform":[{"filter":"datum.panel === 'p4'"}],"mark":{"type":"line","color":"#333333","strokeWidth":1.3},"encoding":{"x":{"field":"group","type":"nominal"},"y":{"field":"y","type":"quantitative"},"order":{"field":"ord"}}},
 {"data":{"name":"stars"},"transform":[{"filter":"datum.panel === 'p4'"}],"mark":{"type":"text","fontSize":21,"fontWeight":"bold","baseline":"alphabetic","dy":2,"color":"#222"},"encoding":{"x":{"field":"group","type":"nominal","bandPosition":0},"y":{"field":"y","type":"quantitative"},"text":{"field":"label"}}},
 {"data":{"name":"ylabels"},"transform":[{"filter":"datum.panel === 'p4'"}],"mark":{"type":"text","fontSize":14,"fontWeight":"bold","align":"right","baseline":"middle","dx":-6},"encoding":{"x":{"field":"group","type":"nominal","bandPosition":0},"y":{"field":"y","type":"quantitative"},"text":{"field":"label"}}},
 {"data":{"name":"titles"},"transform":[{"filter":"datum.panel === 'p4'"}],"mark":{"type":"text","fontSize":16.5,"fontWeight":"bold","baseline":"middle","dy":-31.5},"encoding":{"x":{"field":"group","type":"nominal","bandPosition":0},"y":{"field":"y","type":"quantitative"},"text":{"field":"label"}}}
]},
{"width":188,"height":196,"layer":[
 {"data":{"name":"points"},"transform":[{"filter":"datum.panel === 'p5'"}],"mark":{"type":"circle","size":40,"opacity":1},"encoding":{"x":{"field":"group","type":"nominal","scale":{"type":"band","domain":["Healthy","Breast cancer"],"paddingInner":0,"paddingOuter":0},"axis":{"title":null}},"xOffset":{"field":"slot","type":"quantitative","scale":{"domain":[-6.714,6.714],"range":[0,94]}},"y":{"field":"value","type":"quantitative","scale":{"domain":[0,100],"nice":false},"axis":{"title":"Response (% of GM-induced ASR)","values":[0,20,40,60,80,100]}},"color":{"field":"group","type":"nominal","scale":{"domain":["Healthy","Breast cancer"],"range":["#F5A8E6","#F87C7C"]},"legend":null}}},
 {"data":{"name":"stats"},"transform":[{"filter":"datum.panel === 'p5'"}],"mark":{"type":"rule","color":"#666666","strokeWidth":1.5},"encoding":{"x":{"field":"group","type":"nominal"},"y":{"field":"lo","type":"quantitative"},"y2":{"field":"hi"}}},
 {"data":{"name":"stats"},"transform":[{"filter":"datum.panel === 'p5'"}],"mark":{"type":"tick","color":"#8c8c8c","size":62,"thickness":1.5},"encoding":{"x":{"field":"group","type":"nominal"},"y":{"field":"mean","type":"quantitative"}}},
 {"data":{"name":"stats"},"transform":[{"filter":"datum.panel === 'p5'"}],"mark":{"type":"tick","color":"#4d4d4d","size":32,"thickness":2},"encoding":{"x":{"field":"group","type":"nominal"},"y":{"field":"lo","type":"quantitative"}}},
 {"data":{"name":"stats"},"transform":[{"filter":"datum.panel === 'p5'"}],"mark":{"type":"tick","color":"#4d4d4d","size":32,"thickness":2},"encoding":{"x":{"field":"group","type":"nominal"},"y":{"field":"hi","type":"quantitative"}}},
 {"data":{"name":"brackets"},"transform":[{"filter":"datum.panel === 'p5'"}],"mark":{"type":"line","color":"#333333","strokeWidth":1.3},"encoding":{"x":{"field":"group","type":"nominal"},"y":{"field":"y","type":"quantitative"},"order":{"field":"ord"}}},
 {"data":{"name":"stars"},"transform":[{"filter":"datum.panel === 'p5'"}],"mark":{"type":"text","fontSize":21,"fontWeight":"bold","baseline":"alphabetic","dy":2,"color":"#222"},"encoding":{"x":{"field":"group","type":"nominal","bandPosition":0},"y":{"field":"y","type":"quantitative"},"text":{"field":"label"}}},
 {"data":{"name":"ylabels"},"transform":[{"filter":"datum.panel === 'p5'"}],"mark":{"type":"text","fontSize":14,"fontWeight":"bold","align":"right","baseline":"middle","dx":-6},"encoding":{"x":{"field":"group","type":"nominal","bandPosition":0},"y":{"field":"y","type":"quantitative"},"text":{"field":"label"}}},
 {"data":{"name":"titles"},"transform":[{"filter":"datum.panel === 'p5'"}],"mark":{"type":"text","fontSize":16.5,"fontWeight":"bold","baseline":"middle","dy":-32},"encoding":{"x":{"field":"group","type":"nominal","bandPosition":0},"y":{"field":"y","type":"quantitative"},"text":{"field":"label"}}}
]},
{"width":188,"height":196,"layer":[
 {"data":{"name":"points"},"transform":[{"filter":"datum.panel === 'p6'"}],"mark":{"type":"circle","size":40,"opacity":1},"encoding":{"x":{"field":"group","type":"nominal","scale":{"type":"band","domain":["Healthy","Breast cancer"],"paddingInner":0,"paddingOuter":0},"axis":{"title":null}},"xOffset":{"field":"slot","type":"quantitative","scale":{"domain":[-6.714,6.714],"range":[0,94]}},"y":{"field":"value","type":"quantitative","scale":{"domain":[0,100],"nice":false},"axis":{"title":"Response (% of S-induced ASR)","values":[0,20,40,60,80,100]}},"color":{"field":"group","type":"nominal","scale":{"domain":["Healthy","Breast cancer"],"range":["#F5A8E6","#F87C7C"]},"legend":null}}},
 {"data":{"name":"stats"},"transform":[{"filter":"datum.panel === 'p6'"}],"mark":{"type":"rule","color":"#666666","strokeWidth":1.5},"encoding":{"x":{"field":"group","type":"nominal"},"y":{"field":"lo","type":"quantitative"},"y2":{"field":"hi"}}},
 {"data":{"name":"stats"},"transform":[{"filter":"datum.panel === 'p6'"}],"mark":{"type":"tick","color":"#8c8c8c","size":62,"thickness":1.5},"encoding":{"x":{"field":"group","type":"nominal"},"y":{"field":"mean","type":"quantitative"}}},
 {"data":{"name":"stats"},"transform":[{"filter":"datum.panel === 'p6'"}],"mark":{"type":"tick","color":"#4d4d4d","size":32,"thickness":2},"encoding":{"x":{"field":"group","type":"nominal"},"y":{"field":"lo","type":"quantitative"}}},
 {"data":{"name":"stats"},"transform":[{"filter":"datum.panel === 'p6'"}],"mark":{"type":"tick","color":"#4d4d4d","size":32,"thickness":2},"encoding":{"x":{"field":"group","type":"nominal"},"y":{"field":"hi","type":"quantitative"}}},
 {"data":{"name":"brackets"},"transform":[{"filter":"datum.panel === 'p6'"}],"mark":{"type":"line","color":"#333333","strokeWidth":1.3},"encoding":{"x":{"field":"group","type":"nominal"},"y":{"field":"y","type":"quantitative"},"order":{"field":"ord"}}},
 {"data":{"name":"stars"},"transform":[{"filter":"datum.panel === 'p6'"}],"mark":{"type":"text","fontSize":21,"fontWeight":"bold","baseline":"alphabetic","dy":2,"color":"#222"},"encoding":{"x":{"field":"group","type":"nominal","bandPosition":0},"y":{"field":"y","type":"quantitative"},"text":{"field":"label"}}},
 {"data":{"name":"ylabels"},"transform":[{"filter":"datum.panel === 'p6'"}],"mark":{"type":"text","fontSize":14,"fontWeight":"bold","align":"right","baseline":"middle","dx":-6},"encoding":{"x":{"field":"group","type":"nominal","bandPosition":0},"y":{"field":"y","type":"quantitative"},"text":{"field":"label"}}},
 {"data":{"name":"titles"},"transform":[{"filter":"datum.panel === 'p6'"}],"mark":{"type":"text","fontSize":16.5,"fontWeight":"bold","baseline":"middle","dy":-32},"encoding":{"x":{"field":"group","type":"nominal","bandPosition":0},"y":{"field":"y","type":"quantitative"},"text":{"field":"label"}}}
]},
{"width":188,"height":196,"layer":[
 {"data":{"name":"points"},"transform":[{"filter":"datum.panel === 'p7'"}],"mark":{"type":"circle","size":40,"opacity":1},"encoding":{"x":{"field":"group","type":"nominal","scale":{"type":"band","domain":["Healthy","Breast cancer"],"paddingInner":0,"paddingOuter":0},"axis":{"title":null}},"xOffset":{"field":"slot","type":"quantitative","scale":{"domain":[-6.714,6.714],"range":[0,94]}},"y":{"field":"value","type":"quantitative","scale":{"domain":[0,200],"nice":false},"axis":{"title":"mtDNA copy number","values":[0,50,100,150,200]}},"color":{"field":"group","type":"nominal","scale":{"domain":["Healthy","Breast cancer"],"range":["#F5A8E6","#F87C7C"]},"legend":null}}},
 {"data":{"name":"stats"},"transform":[{"filter":"datum.panel === 'p7'"}],"mark":{"type":"rule","color":"#666666","strokeWidth":1.5},"encoding":{"x":{"field":"group","type":"nominal"},"y":{"field":"lo","type":"quantitative"},"y2":{"field":"hi"}}},
 {"data":{"name":"stats"},"transform":[{"filter":"datum.panel === 'p7'"}],"mark":{"type":"tick","color":"#8c8c8c","size":62,"thickness":1.5},"encoding":{"x":{"field":"group","type":"nominal"},"y":{"field":"mean","type":"quantitative"}}},
 {"data":{"name":"stats"},"transform":[{"filter":"datum.panel === 'p7'"}],"mark":{"type":"tick","color":"#4d4d4d","size":32,"thickness":2},"encoding":{"x":{"field":"group","type":"nominal"},"y":{"field":"lo","type":"quantitative"}}},
 {"data":{"name":"stats"},"transform":[{"filter":"datum.panel === 'p7'"}],"mark":{"type":"tick","color":"#4d4d4d","size":32,"thickness":2},"encoding":{"x":{"field":"group","type":"nominal"},"y":{"field":"hi","type":"quantitative"}}},
 {"data":{"name":"brackets"},"transform":[{"filter":"datum.panel === 'p7'"}],"mark":{"type":"line","color":"#333333","strokeWidth":1.3},"encoding":{"x":{"field":"group","type":"nominal"},"y":{"field":"y","type":"quantitative"},"order":{"field":"ord"}}},
 {"data":{"name":"stars"},"transform":[{"filter":"datum.panel === 'p7'"}],"mark":{"type":"text","fontSize":21,"fontWeight":"bold","baseline":"alphabetic","dy":2,"color":"#222"},"encoding":{"x":{"field":"group","type":"nominal","bandPosition":0},"y":{"field":"y","type":"quantitative"},"text":{"field":"label"}}},
 {"data":{"name":"ylabels"},"transform":[{"filter":"datum.panel === 'p7'"}],"mark":{"type":"text","fontSize":14,"fontWeight":"bold","align":"right","baseline":"middle","dx":-6},"encoding":{"x":{"field":"group","type":"nominal","bandPosition":0},"y":{"field":"y","type":"quantitative"},"text":{"field":"label"}}},
 {"data":{"name":"titles"},"transform":[{"filter":"datum.panel === 'p7'"}],"mark":{"type":"text","fontSize":16.5,"fontWeight":"bold","baseline":"middle","dy":-32},"encoding":{"x":{"field":"group","type":"nominal","bandPosition":0},"y":{"field":"y","type":"quantitative"},"text":{"field":"label"}}}
]},
{"width":188,"height":196,"layer":[
 {"data":{"name":"points"},"transform":[{"filter":"datum.panel === 'p8'"}],"mark":{"type":"circle","size":40,"opacity":1},"encoding":{"x":{"field":"group","type":"nominal","scale":{"type":"band","domain":["Healthy","Breast cancer"],"paddingInner":0,"paddingOuter":0},"axis":{"title":null}},"xOffset":{"field":"slot","type":"quantitative","scale":{"domain":[-6.714,6.714],"range":[0,94]}},"y":{"field":"value","type":"quantitative","scale":{"domain":[0,80],"nice":false},"axis":{"title":"Age (years)","values":[0,20,40,60,80]}},"color":{"field":"group","type":"nominal","scale":{"domain":["Healthy","Breast cancer"],"range":["#F5A8E6","#F87C7C"]},"legend":null}}},
 {"data":{"name":"stats"},"transform":[{"filter":"datum.panel === 'p8'"}],"mark":{"type":"rule","color":"#666666","strokeWidth":1.5},"encoding":{"x":{"field":"group","type":"nominal"},"y":{"field":"lo","type":"quantitative"},"y2":{"field":"hi"}}},
 {"data":{"name":"stats"},"transform":[{"filter":"datum.panel === 'p8'"}],"mark":{"type":"tick","color":"#8c8c8c","size":62,"thickness":1.5},"encoding":{"x":{"field":"group","type":"nominal"},"y":{"field":"mean","type":"quantitative"}}},
 {"data":{"name":"stats"},"transform":[{"filter":"datum.panel === 'p8'"}],"mark":{"type":"tick","color":"#4d4d4d","size":32,"thickness":2},"encoding":{"x":{"field":"group","type":"nominal"},"y":{"field":"lo","type":"quantitative"}}},
 {"data":{"name":"stats"},"transform":[{"filter":"datum.panel === 'p8'"}],"mark":{"type":"tick","color":"#4d4d4d","size":32,"thickness":2},"encoding":{"x":{"field":"group","type":"nominal"},"y":{"field":"hi","type":"quantitative"}}},
 {"data":{"name":"brackets"},"transform":[{"filter":"datum.panel === 'p8'"}],"mark":{"type":"line","color":"#333333","strokeWidth":1.3},"encoding":{"x":{"field":"group","type":"nominal"},"y":{"field":"y","type":"quantitative"},"order":{"field":"ord"}}},
 {"data":{"name":"stars"},"transform":[{"filter":"datum.panel === 'p8'"}],"mark":{"type":"text","fontSize":21,"fontWeight":"bold","baseline":"alphabetic","dy":2,"color":"#222"},"encoding":{"x":{"field":"group","type":"nominal","bandPosition":0},"y":{"field":"y","type":"quantitative"},"text":{"field":"label"}}},
 {"data":{"name":"ylabels"},"transform":[{"filter":"datum.panel === 'p8'"}],"mark":{"type":"text","fontSize":14,"fontWeight":"bold","align":"right","baseline":"middle","dx":-6},"encoding":{"x":{"field":"group","type":"nominal","bandPosition":0},"y":{"field":"y","type":"quantitative"},"text":{"field":"label"}}},
 {"data":{"name":"titles"},"transform":[{"filter":"datum.panel === 'p8'"}],"mark":{"type":"text","fontSize":16.5,"fontWeight":"bold","baseline":"middle","dy":-32},"encoding":{"x":{"field":"group","type":"nominal","bandPosition":0},"y":{"field":"y","type":"quantitative"},"text":{"field":"label"}}}
]}
]
}
